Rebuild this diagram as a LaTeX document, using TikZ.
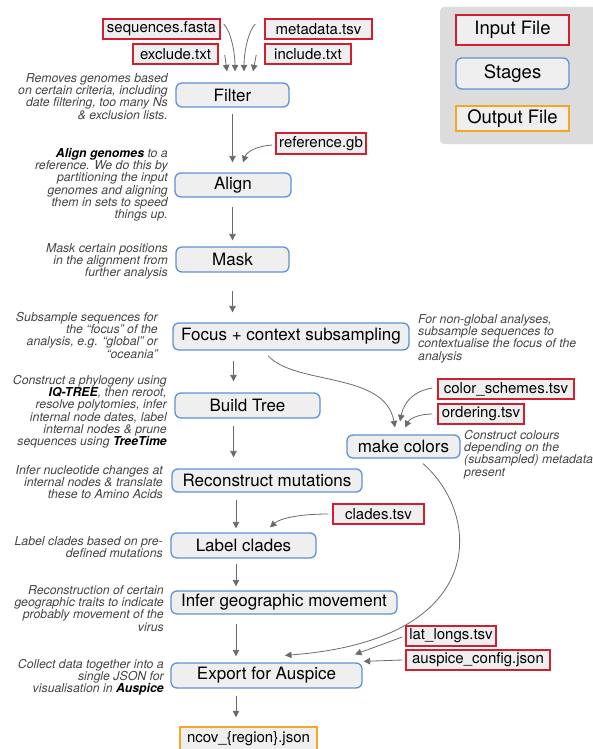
\documentclass[tikz,border=0pt]{standalone}
\usepackage{fontspec}
\setmainfont{TeX Gyre Heros}
\usetikzlibrary{arrows.meta,calc}
\definecolor{boxgray}{HTML}{EFEFEF}
\definecolor{inred}{HTML}{D0202F}
\definecolor{stageblue}{HTML}{5E93D6}
\definecolor{outorange}{HTML}{F5A623}
\definecolor{arrgray}{HTML}{6B6B6B}
\definecolor{notegray}{HTML}{454545}
\definecolor{leggray}{HTML}{DCDCDC}
\newcommand\bx[7]{\node[#1, minimum width={#5-#3}, minimum height={#6-#4}] (#2) at ({(#3+#5)/2},{(#4+#6)/2}) {#7};}
\newcommand\hl[1]{{\bfseries\color{black}#1}}
\begin{document}
\begin{tikzpicture}[x=1pt,y=-1pt,
  stagebox/.style={draw=stageblue, line width=1.3pt, fill=boxgray, rounded corners=6pt, inner sep=0pt, font=\fontsize{17}{18}\selectfont},
  infile/.style={draw=inred, line width=1.5pt, fill=boxgray, inner sep=0pt, font=\fontsize{15}{16}\selectfont},
  outfile/.style={draw=outorange, line width=1.5pt, fill=boxgray, inner sep=0pt, font=\fontsize{15}{16}\selectfont},
  note/.style={font=\itshape\fontsize{12.3}{12.3}\selectfont, text=notegray, align=right, inner sep=0pt, anchor=north east},
  noteL/.style={note, align=left, anchor=north west},
  arr/.style={draw=arrgray, line width=0.8pt, -{Triangle[length=6.5pt,width=6.5pt]}}]
\useasboundingbox (0,0) rectangle (592,749);
\fill[white] (0,0) rectangle (592,749);
% legend
\node[fill=leggray, rounded corners=4pt, minimum width=160, minimum height=137, inner sep=0pt] (legend) at (520,75.5) {};
\bx{infile}{legin}{456}{15}{569}{45}{\fontsize{18.5}{19}\selectfont Input File}
\bx{stagebox}{legst}{456}{58}{569}{89}{\fontsize{18.5}{19}\selectfont Stages}
\bx{outfile}{legout}{456}{106}{569}{131}{\fontsize{18.5}{19}\selectfont Output File}
% inputs
\bx{infile}{seq}{103}{19}{220}{39}{sequences.fasta}
\bx{infile}{meta}{265}{19}{372}{39}{metadata.tsv}
\bx{infile}{excl}{133}{44}{218}{64}{exclude.txt}
\bx{infile}{incl}{265}{44}{351}{64}{include.txt}
\bx{infile}{ref}{276}{133}{366}{154}{reference.gb}
\bx{infile}{colsch}{438}{379}{574}{399}{color\_schemes.tsv}
\bx{infile}{order}{438}{404}{524}{424}{ordering.tsv}
\bx{infile}{clades}{333}{504}{424}{524}{clades.tsv}
\bx{infile}{latlong}{406}{626}{496}{646}{lat\_longs.tsv}
\bx{infile}{auscfg}{406}{650}{550}{670}{auspice\_config.json}
% stages
\bx{stagebox}{filter}{176}{83}{289}{107}{Filter}
\bx{stagebox}{align}{175}{173}{291}{197}{Align}
\bx{stagebox}{mask}{176}{247}{289}{272}{Mask}
\bx{stagebox}{focus}{173}{323}{409}{350}{Focus + context subsampling}
\bx{stagebox}{build}{175}{393}{320}{418}{Build Tree}
\bx{stagebox}{mkcol}{347}{435}{460}{458}{make colors}
\bx{stagebox}{recon}{172}{469}{362}{492}{Reconstruct mutations}
\bx{stagebox}{label}{171}{533}{316}{558}{Label clades}
\bx{stagebox}{infer}{171}{591}{397}{614}{Infer geographic movement}
\bx{stagebox}{export}{171}{663}{362}{688}{Export for Auspice}
\bx{outfile}{ncov}{180}{727}{317}{751}{ncov\_\{region\}.json}
% notes
\node[note] (nfilter) at (168,73) {Removes genomes based\\on certain criteria, including\\date filtering, too many Ns\\\& exclusion lists.};
\node[note] (nalign) at (168,148) {\hl{Align genomes} to a\\reference. We do this by\\partitioning the input\\genomes and aligning\\them in sets to speed\\things up.};
\node[note] (nmask) at (168,243) {Mask certain positions\\in the alignment from\\further analysis};
\node[note] (nfocus) at (158,312) {Subsample sequences for\\the “focus” of the\\analysis, e.g. “global” or\\“oceania”};
\node[note] (nbuild) at (167,375) {Construct a phylogeny using\\\hl{IQ-TREE}, then reroot,\\resolve polytomies, infer\\internal node dates, label\\internal nodes \& prune\\sequences using \hl{TreeTime}};
\node[note] (nrecon) at (163,465) {Infer nucleotide changes at\\internal nodes \& translate\\these to Amino Acids};
\node[note] (nlabel) at (163,536) {Label clades based on pre-\\defined mutations};
\node[note] (ninfer) at (164,585) {Reconstruction of certain\\geographic traits to indicate\\probably movement of the\\virus};
\node[note] (nexport) at (164,659) {Collect data together into a\\single JSON for\\visualisation in \hl{Auspice}};
\node[noteL] (nfocusR) at (418,314) {For non-global analyses,\\subsample sequences to\\contextualise the focus of the\\analysis};
\node[noteL] (nmkcol) at (464,430) {Construct colours\\depending on the\\(subsampled) metadata\\present};
% spine
\coordinate (spA) at (232.5,0);
\coordinate (spB) at (233.5,0);
\coordinate (spC) at (236,0);
\draw[arr, shorten <=6pt, shorten >=10pt] (spA |- filter.south) -- (spA |- align.north);
\draw[arr, shorten <=9pt, shorten >=6pt] (spA |- align.south) -- (spA |- mask.north);
\draw[arr, shorten <=18pt, shorten >=10pt] (spA |- mask.south) -- (spA |- focus.north);
\draw[arr, shorten <=10pt, shorten >=11pt] (spB |- focus.south) -- (spB |- build.north);
\draw[arr, shorten <=7pt, shorten >=11pt] (spB |- build.south) -- (spB |- recon.north);
\draw[arr, shorten <=7pt, shorten >=4pt] (spC |- recon.south) -- (spC |- label.north);
\draw[arr, shorten <=5pt, shorten >=4pt] (spC |- label.south) -- (spC |- infer.north);
\draw[arr, shorten <=9pt, shorten >=6pt] (spC |- infer.south) -- (spC |- export.north);
\draw[arr, shorten <=7pt, shorten >=9pt] (spC |- export.south) -- (spC |- ncov.north);
% input arrows
\draw[arr] ($(seq.east)+(3,-5)$) .. controls ($(seq.east)+(10,2)$) and ($(filter.north)+(2.5,-30)$) .. ($(filter.north)+(2.5,-11)$);
\draw[arr] ($(meta.west)+(-9,-5)$) .. controls ($(meta.west)+(-16,2)$) and ($(filter.north)+(11.5,-30)$) .. ($(filter.north)+(11.5,-11)$);
\draw[arr] ($(excl.east)+(6,1)$) -- ($(filter.north)+(-5.5,-11)$);
\draw[arr] ($(incl.west)+(-8,1)$) -- ($(filter.north)+(20.5,-11)$);
\draw[arr] ($(ref.west)+(-3,1.5)$) .. controls ($(ref.west)+(-18,2.5)$) and ($(align.north)+(14,-21)$) .. ($(align.north)+(10,-10)$);
\draw[arr] ($(focus.south)+(-23,5)$) .. controls ($(focus.south)+(4,35)$) and ($(mkcol.north)+(-18.5,-63)$) .. ($(mkcol.north)+(-8.5,-7)$);
\draw[arr] ($(colsch.west)+(-5,-1)$) .. controls ($(colsch.west)+(-23,2)$) and ($(mkcol.north)+(0.5,-33)$) .. ($(mkcol.north)+(-3.5,-13)$);
\draw[arr] ($(order.west)+(-5,0)$) .. controls ($(order.west)+(-18,0)$) and ($(mkcol.north)+(6.5,-16)$) .. ($(mkcol.north)+(1.5,-7)$);
\draw[arr] ($(mkcol.south)+(19.5,5)$) .. controls (482,515) and (490,640) .. ($(export.north)+(18.5,-7)$);
\draw[arr] ($(clades.west)+(-4,0)$) .. controls ($(clades.west)+(-33,0)$) and ($(label.north)+(36.5,-14)$) .. ($(label.north)+(26.5,-5)$);
\draw[arr] ($(latlong.west)+(-3,1)$) -- ($(export.north)+(88.5,-8)$);
\draw[arr] ($(auscfg.west)+(-3,0)$) -- ($(export.north east)+(1,-1)$);
\end{tikzpicture}
\end{document}
